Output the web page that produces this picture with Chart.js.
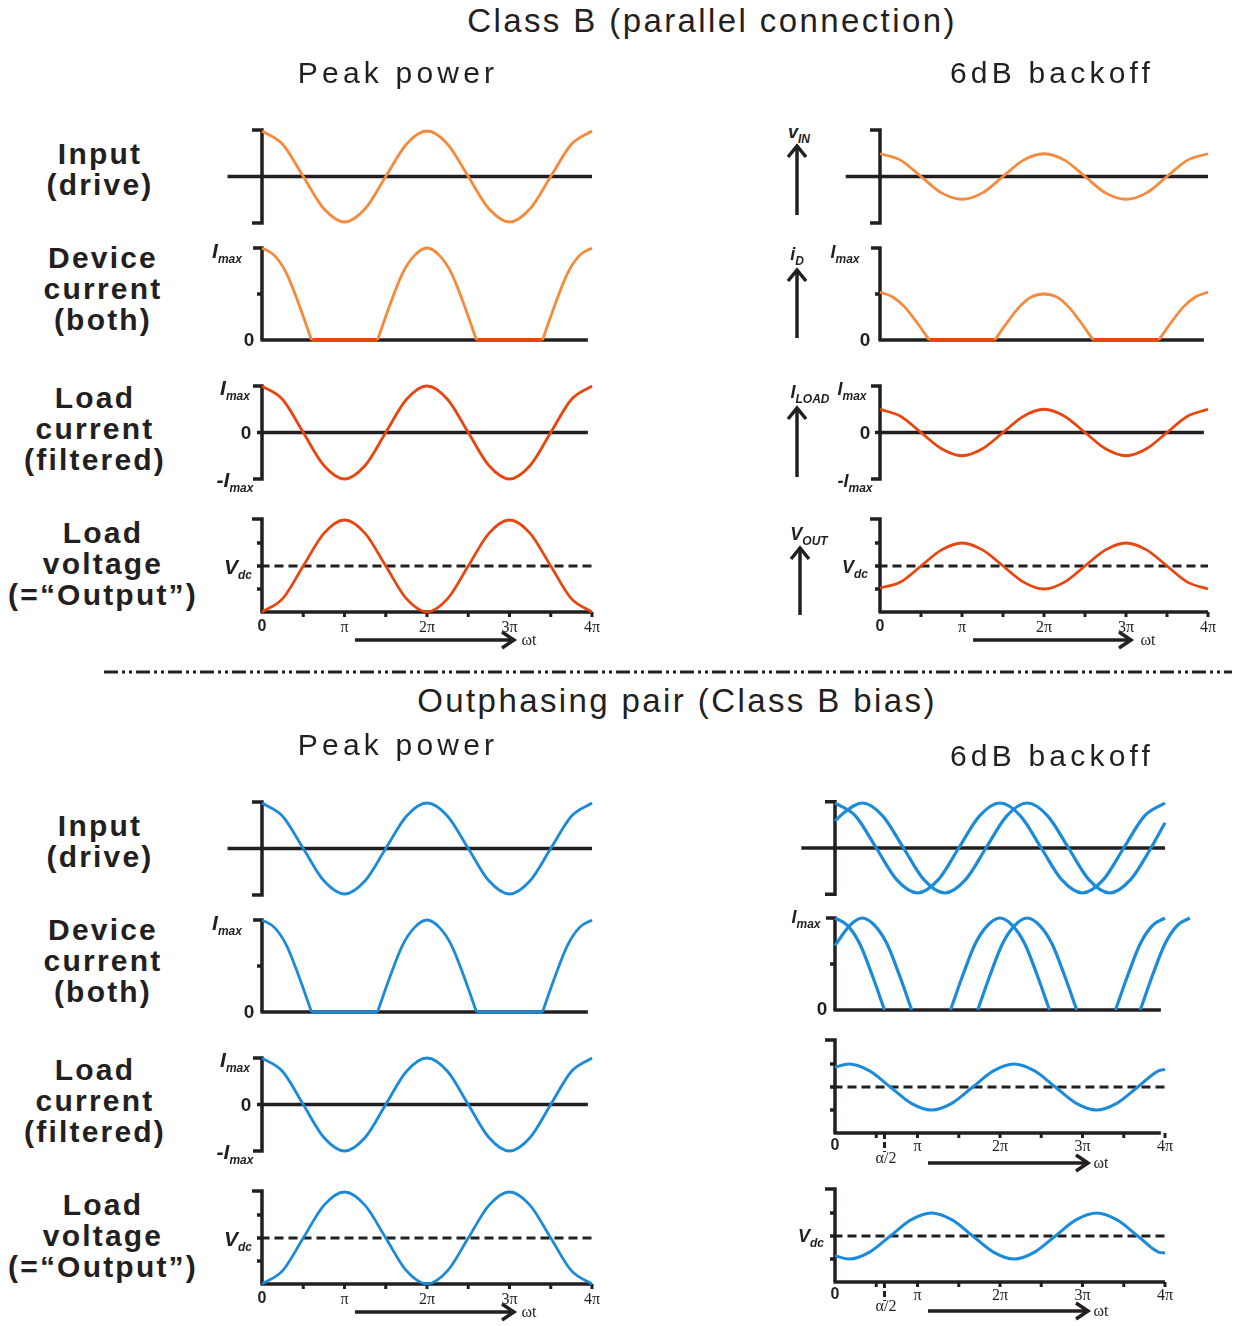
<!DOCTYPE html>
<html>
<head>
<meta charset="utf-8">
<script src="https://cdn.jsdelivr.net/npm/chart.js@4"></script>
<style>
  body { margin: 0; background: #fff; width: 1233px; height: 1326px; position: relative; overflow: hidden;
         font-family: "Liberation Sans", Arial, sans-serif; color: #231f20; }
  canvas { position: absolute; }
  svg { position: absolute; left: 0; top: 0; }
  .t { position: absolute; transform: translate(-50%, -50%); white-space: nowrap; }
  .title { font-size: 33px; letter-spacing: 2.4px; }
  .head { font-size: 30px; letter-spacing: 4.2px; }
  .row { font-weight: bold; font-size: 30px; letter-spacing: 2.2px; line-height: 31px; text-align: center; }
  .ax { font-weight: bold; font-style: italic; font-size: 21px; }
  .ax.s { font-size: 18px; }
  .ax sub { font-size: 12px; vertical-align: -5px; }
  .z { font-weight: bold; font-size: 19px; }
  .z0 { font-weight: bold; font-size: 16px; }
  .tk { font-family: "Liberation Serif", serif; font-size: 16px; }
</style>
</head>
<body>
<script>
// phase in multiples of pi
const phase = [0, 0.25, 0.5, 0.75, 1, 1.25, 1.5, 1.75, 2, 2.25, 2.5, 2.75, 3, 3.25, 3.5, 3.75, 4];
const inputPeak = [1, 0.71, 0, -0.71, -1, -0.71, 0, 0.71, 1, 0.71, 0, -0.71, -1, -0.71, 0, 0.71, 1];
const inputBackoff = [0.5, 0.36, 0, -0.36, -0.5, -0.36, 0, 0.36, 0.5, 0.36, 0, -0.36, -0.5, -0.36, 0, 0.36, 0.5];
const loadPeak = [1, 0.71, 0, -0.71, -1, -0.71, 0, 0.71, 1, 0.71, 0, -0.71, -1, -0.71, 0, 0.71, 1];
const loadBackoff = [0.5, 0.35, 0, -0.35, -0.5, -0.35, 0, 0.35, 0.5, 0.35, 0, -0.35, -0.5, -0.35, 0, 0.35, 0.5];
const voltPeak = [0, 0.29, 1, 1.71, 2, 1.71, 1, 0.29, 0, 0.29, 1, 1.71, 2, 1.71, 1, 0.29, 0];
const voltBackoff = [0.52, 0.65, 1, 1.35, 1.5, 1.35, 1, 0.65, 0.5, 0.65, 1, 1.35, 1.5, 1.35, 1, 0.65, 0.5];

const devicePhase = [0, 0.15, 0.3, 0.45, 0.6, 1, 1.4, 1.55, 1.7, 1.85, 2, 2.15, 2.3, 2.45, 2.6, 3, 3.4, 3.55, 3.7, 3.85, 4];
const devicePeak = [1, 0.92, 0.72, 0.38, 0, null, 0, 0.38, 0.72, 0.92, 1, 0.92, 0.72, 0.38, 0, null, 0, 0.38, 0.72, 0.92, 1];
const deviceBackoff = [0.52, 0.47, 0.36, 0.19, 0, null, 0, 0.19, 0.36, 0.47, 0.5, 0.47, 0.36, 0.19, 0, null, 0, 0.19, 0.36, 0.47, 0.52];
const cutoffPhase = [0.6, 1.4, 2, 2.6, 3.4];
const cutoffLevel = [0, 0, null, 0, 0];

// outphasing, 6 dB backoff: second drive shifted by alpha
const shiftedPhase = [0, 0.08, 0.33, 0.58, 0.83, 1.08, 1.33, 1.58, 1.83, 2.08, 2.33, 2.58, 2.83, 3.08, 3.33, 3.58, 3.83, 4];
const inputShifted = [0.6, 0.74, 1, 0.71, 0, -0.71, -1, -0.71, 0, 0.71, 1, 0.71, 0, -0.71, -1, -0.71, 0, 0.56];
const deviceShiftedPhase = [0, 0.18, 0.33, 0.48, 0.63, 0.78, 0.93, 1.3, 1.73, 1.88, 2.03, 2.18, 2.33, 2.48, 2.63, 2.78, 2.93, 3.3, 3.7, 3.85, 4.0, 4.15, 4.3];
const deviceShifted = [0.7, 0.92, 1, 0.92, 0.72, 0.38, 0, null, 0, 0.38, 0.72, 0.92, 1, 0.92, 0.72, 0.38, 0, null, 0, 0.38, 0.72, 0.92, 1];
const sumPhase = [0, 0.17, 0.42, 0.67, 0.92, 1.17, 1.42, 1.67, 1.92, 2.17, 2.42, 2.67, 2.92, 3.17, 3.42, 3.67, 3.92, 4];
const loadOutphased = [0.43, 0.5, 0.35, 0, -0.35, -0.5, -0.35, 0, 0.35, 0.5, 0.35, 0, -0.35, -0.5, -0.35, 0, 0.35, 0.38];
const voltOutphased = [0.57, 0.5, 0.65, 1, 1.35, 1.5, 1.35, 1, 0.65, 0.5, 0.65, 1, 1.35, 1.5, 1.35, 1, 0.65, 0.63];

const tickPhase = [0, 1, 2, 3, 4];
const tickText = ['0', 'π', '2π', '3π', '4π'];

const INK = '#231f20', ORANGE = '#f68a3c', RED = '#e8460f', BLUE = '#1a8ad9';

const decoPlugin = {
  id: 'deco',
  beforeDatasetsDraw(chart, args, opts) {
    const ctx = chart.ctx, X = v => chart.scales.x.getPixelForValue(v), Y = v => chart.scales.y.getPixelForValue(v);
    ctx.save();
    ctx.strokeStyle = INK;
    ctx.lineWidth = 3.5;
    ctx.lineJoin = 'miter';
    for (const it of opts.items || []) {
      ctx.setLineDash(it.dash || []);
      ctx.beginPath();
      if (it.k == 'bracket') {
        ctx.moveTo(X(it.x) - (it.len || 0), Y(it.y1));
        ctx.lineTo(X(it.x), Y(it.y1));
        ctx.lineTo(X(it.x), Y(it.y0));
        ctx.lineTo(X(it.x) - (it.bot == null ? it.len : it.bot), Y(it.y0));
      } else if (it.k == 'h') {
        ctx.lineWidth = it.w || 3.5;
        ctx.moveTo(X(it.x0) - 1.5, Y(it.y));
        ctx.lineTo(X(it.x1), Y(it.y));
      } else if (it.k == 'tickL') {
        for (const v of it.at) { ctx.moveTo(X(it.x), Y(v)); ctx.lineTo(X(it.x) - it.len, Y(v)); }
      } else if (it.k == 'tickD') {
        ctx.lineWidth = 3;
        for (const v of it.at) { ctx.moveTo(X(v), Y(it.y)); ctx.lineTo(X(v), Y(it.y) + it.len); }
      }
      ctx.stroke();
      ctx.lineWidth = 3.5;
    }
    ctx.restore();
  }
};

function series(xs, ys, color, width, smooth = true) {
  return {
    data: xs.map((x, i) => ({ x, y: ys[i] })),
    borderColor: color, borderWidth: width, pointRadius: 0, fill: false, spanGaps: false, clip: false,
    cubicInterpolationMode: smooth ? 'monotone' : 'default', tension: 0
  };
}

const M = 50;
function panel(box, xr, yr, datasets, items) {
  const sx = (box.x1 - box.x0) / (xr[1] - xr[0]);
  const sy = (box.yb - box.yt) / (yr[1] - yr[0]);
  const cv = document.createElement('canvas');
  cv.width = box.x1 - box.x0 + 2 * M;
  cv.height = box.yb - box.yt + 2 * M;
  const left = box.x0 - M, top = box.yt - M;
  cv.style.left = left + 'px';
  cv.style.top = top + 'px';
  document.body.appendChild(cv);
  const chart = new Chart(cv, {
    type: 'line',
    data: { datasets },
    options: {
      responsive: false, animation: false, devicePixelRatio: 1, events: [],
      layout: { padding: 0 },
      plugins: { legend: { display: false }, tooltip: { enabled: false }, deco: { items } },
      scales: {
        x: { type: 'linear', display: false, min: xr[0] - M / sx, max: xr[1] + M / sx },
        y: { type: 'linear', display: false, min: yr[0] - M / sy, max: yr[1] + M / sy }
      }
    },
    plugins: [decoPlugin]
  });
  return { chart, left, top };
}

function label(html, x, y, cls) {
  const d = document.createElement('div');
  d.className = 't ' + cls;
  d.innerHTML = html;
  d.style.left = x + 'px';
  d.style.top = y + 'px';
  document.body.appendChild(d);
}
function tickLabels(p, y) {
  tickPhase.forEach((v, i) => label(tickText[i], p.left + p.chart.scales.x.getPixelForValue(v), y + (i == 0 ? 0 : 1), i == 0 ? 'z0' : 'tk'));
}

const halfTicks = [0.5, 1, 1.5, 2, 2.5, 3, 3.5, 4];
const inputItems = [{ k: 'bracket', x: 0, y0: -1.02, y1: 1.02, len: 10 }, { k: 'h', y: 0, x0: -0.4, x1: 4 }];
const deviceItems = [{ k: 'bracket', x: 0, y0: 0, y1: 1, len: 9, bot: 0 }, { k: 'tickL', x: 0, at: [0.5], len: 5 }, { k: 'h', y: 0, x0: 0, x1: 3.95 }];
const loadItems = [{ k: 'bracket', x: 0, y0: -1, y1: 1, len: 9 }, { k: 'tickL', x: 0, at: [0], len: 5 }, { k: 'h', y: 0, x0: 0, x1: 3.95 }];
const voltItems = [{ k: 'bracket', x: 0, y0: 0, y1: 2.02, len: 10, bot: 0 }, { k: 'tickL', x: 0, at: [0.5, 1, 1.5], len: 5 },
  { k: 'h', y: 0, x0: 0, x1: 4 }, { k: 'tickD', y: 0, at: halfTicks, len: 5 }, { k: 'h', y: 1, x0: 0, x1: 4, dash: [9, 5], w: 3 }];
const alphaMark = (y) => ({ k: 'tickD', y, at: [0.6], len: 19, dash: [6, 3] });

// ---------- Class B (top) ----------
const L = { x0: 262, x1: 592 }, R = { x0: 880, x1: 1208 };
function rowBox(c, yt, yb) { return { x0: c.x0, x1: c.x1, yt, yb }; }

function classBColumn(c, dy, color, input, device, load, volt, cut) {
  panel(rowBox(c, 131 + dy, 222 + dy), [0, 4], [-1, 1], [series(phase, input, color, 2.8)], inputItems);
  const devSets = [series(devicePhase, device, color, 2.8)];
  if (cut) devSets.push(series(cutoffPhase, cutoffLevel, cut, cut == RED ? 4 : 2.8, false));
  panel(rowBox(c, 248 + dy, 340 + dy), [0, 4], [0, 1], devSets, deviceItems);
  panel(rowBox(c, 386 + dy, 479 + dy), [0, 4], [-1, 1], [series(phase, load, color == ORANGE ? RED : color, 2.8)], loadItems);
  const pv = panel(rowBox(c, 520 + dy, 612 + dy), [0, 4], [0, 2], [series(phase, volt, color == ORANGE ? RED : color, 2.8)], voltItems);
  tickLabels(pv, 626 + dy);
}
classBColumn(L, 0, ORANGE, inputPeak, devicePeak, loadPeak, voltPeak, RED);
classBColumn(R, 0, ORANGE, inputBackoff, deviceBackoff, loadBackoff, voltBackoff, RED);

// ---------- Outphasing (bottom) ----------
classBColumn(L, 672, BLUE, inputPeak, devicePeak, loadPeak, voltPeak, BLUE);

const B = { x0: 835, x1: 1165 };
panel(rowBox(B, 803, 893), [0, 4], [-1, 1],
  [series(phase, inputPeak, BLUE, 3.2), series(shiftedPhase, inputShifted, BLUE, 3.2)],
  [{ k: 'bracket', x: 0, y0: -1.03, y1: 1.03, len: 10 }, { k: 'h', y: 0, x0: -0.39, x1: 4 }]);
panel(rowBox(B, 918, 1010), [0, 4], [0, 1],
  [series(devicePhase, devicePeak, BLUE, 3.2), series(deviceShiftedPhase, deviceShifted, BLUE, 3.2)],
  [{ k: 'bracket', x: 0, y0: 0, y1: 1, len: 9, bot: 0 }, { k: 'tickL', x: 0, at: [0.5], len: 5 }, { k: 'h', y: 0, x0: 0, x1: 3.95 }]);
const pl = panel(rowBox(B, 1041, 1133), [0, 4], [-1, 1], [series(sumPhase, loadOutphased, BLUE, 3)],
  [{ k: 'bracket', x: 0, y0: -1, y1: 1.02, len: 10, bot: 0 }, { k: 'tickL', x: 0, at: [-0.5, 0, 0.5], len: 5 },
   { k: 'h', y: -1, x0: 0, x1: 3.95 }, { k: 'tickD', y: -1, at: halfTicks, len: 5 }, alphaMark(-1),
   { k: 'h', y: 0, x0: 0, x1: 4, dash: [9, 5], w: 3 }]);
tickLabels(pl, 1145);
const pv = panel(rowBox(B, 1190, 1282), [0, 4], [0, 2], [series(sumPhase, voltOutphased, BLUE, 3)],
  voltItems.concat([alphaMark(0)]));
tickLabels(pv, 1294);

// ---------- text ----------
label('Class B (parallel connection)', 712, 21, 'title');
label('Peak power', 398, 73, 'head');
label('6dB backoff', 1052, 73, 'head');
label('Outphasing pair (Class B bias)', 677, 701, 'title');
label('Peak power', 398, 745, 'head');
label('6dB backoff', 1052, 756, 'head');

const rowNames = ['Input<br>(drive)', 'Device<br>current<br>(both)', 'Load<br>current<br>(filtered)', 'Load<br>voltage<br>(=“Output”)'];
const rowX = [100, 103, 95, 103], rowY = [169, 288, 428, 563];
for (const dy of [0, 672]) rowNames.forEach((n, i) => label(n, rowX[i], rowY[i] + dy, 'row'));

for (const dy of [0, 672]) {
  label('I<sub>max</sub>', 227, 252 + dy, 'ax');
  label('0', 249, 340 + dy, 'z');
  label('I<sub>max</sub>', 235, 389 + dy, 'ax');
  label('0', 246, 433 + dy, 'z');
  label('-I<sub>max</sub>', 235, 481 + dy, 'ax');
  label('V<sub>dc</sub>', 238, 568 + dy, 'ax');
  label('ωt', 529, 640 + dy, 'tk');
}
label('v<sub>IN</sub>', 799, 134, 'ax s');
label('i<sub>D</sub>', 797, 256, 'ax s');
label('I<sub>max</sub>', 845, 254, 'ax s');
label('0', 865, 340, 'z');
label('I<sub>LOAD</sub>', 810, 394, 'ax s');
label('I<sub>max</sub>', 852, 391, 'ax s');
label('0', 865, 433, 'z');
label('-I<sub>max</sub>', 855, 483, 'ax s');
label('V<sub>OUT</sub>', 809, 536, 'ax s');
label('V<sub>dc</sub>', 855, 569, 'ax s');
label('ωt', 1148, 640, 'tk');

label('I<sub>max</sub>', 806, 919, 'ax s');
label('0', 822, 1009, 'z');
label('α/2', 886, 1158, 'tk');
label('ωt', 1101, 1163, 'tk');
label('V<sub>dc</sub>', 811, 1238, 'ax s');
label('α/2', 886, 1306, 'tk');
label('ωt', 1101, 1311, 'tk');

// ---------- arrows and separator ----------
function harrow(x0, x1, y) {
  return `<line x1="${x0}" y1="${y}" x2="${x1}" y2="${y}"/><polyline points="${x1 - 12},${y - 8} ${x1},${y} ${x1 - 12},${y + 8}" fill="none"/>`;
}
function varrow(x, y0, y1) {
  return `<line x1="${x}" y1="${y0}" x2="${x}" y2="${y1}"/><polyline points="${x - 9},${y1 + 11} ${x},${y1} ${x + 9},${y1 + 11}" fill="none"/>`;
}
const svg = `<svg width="1233" height="1326"><g stroke="${INK}" stroke-width="3.5" fill="none">
  ${harrow(355, 514, 640)}${harrow(973, 1131, 640)}${harrow(355, 514, 1312)}
  ${harrow(928, 1088, 1163)}${harrow(928, 1088, 1311)}
  ${varrow(797, 215, 146)}${varrow(797, 338, 270)}${varrow(797, 477, 408)}${varrow(800, 615, 548)}
  <line x1="104" y1="672" x2="1232" y2="672" stroke-width="3" stroke-dasharray="14 4 3 4 3 4"/>
</g></svg>`;
document.body.insertAdjacentHTML('afterbegin', svg);
</script>
</body>
</html>
